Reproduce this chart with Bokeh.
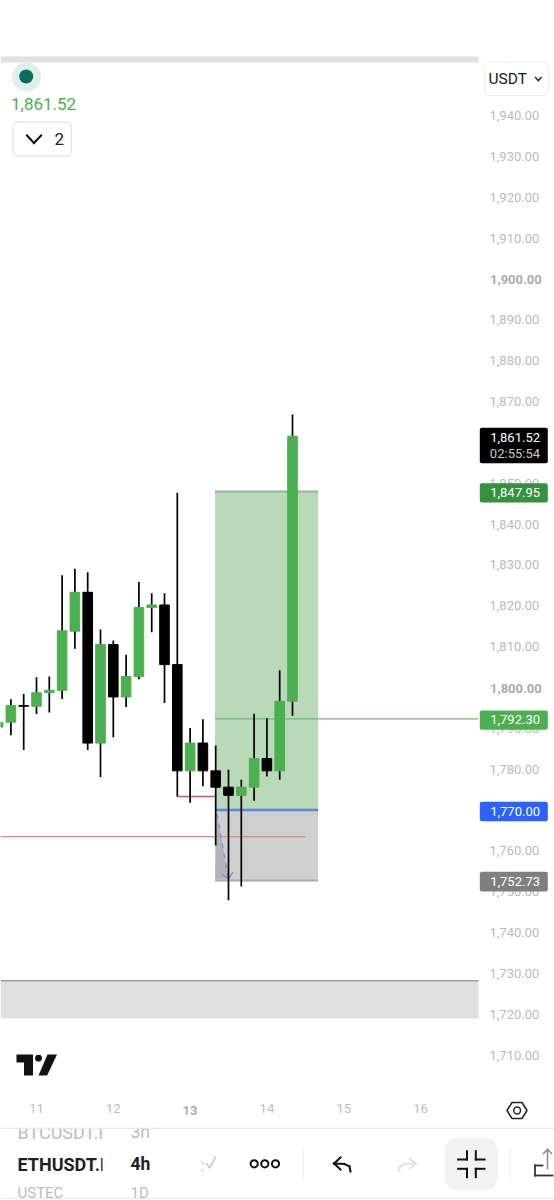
from bokeh.plotting import figure
from bokeh.embed import file_html
from bokeh.resources import INLINE
from bokeh.layouts import column
from bokeh.models import (LinearAxis, FixedTicker, Label, BoxAnnotation, PolyAnnotation, Range1d, ColumnDataSource)
import math

# ---- data ----
candle_index = list(range(-3, 21))
opens  = [1790.3,1791.5,1795.6,1795.4,1798.8,1799.3,1813.8,1823.3,1786.4,1810.5,1797.7,1802.7,1819.6,1820.2,1805.6,1779.6,1786.4,1779.6,1775.6,1773.6,1775.6,1782.6,1779.6,1796.65]
closes = [1791.5,1795.6,1795.4,1798.7,1799.3,1813.9,1823.3,1786.4,1810.5,1797.7,1802.7,1819.6,1820.2,1805.6,1779.6,1786.4,1779.6,1775.6,1773.6,1775.6,1782.6,1779.6,1796.65,1861.52]
highs  = [1791.8,1797.1,1798.4,1802.5,1802.7,1827.5,1829.05,1828.2,1814.2,1811.5,1808.0,1825.8,1823.1,1823.1,1847.7,1790.1,1792.2,1785.8,1779.85,1777.4,1793.6,1792.5,1804.2,1866.8]
lows   = [1789.8,1788.3,1784.7,1793.5,1793.9,1797.2,1809.5,1784.7,1778.05,1787.8,1795.2,1802.0,1813.5,1796.2,1773.3,1771.8,1775.8,1761.3,1747.9,1751.3,1772.3,1778.2,1777.4,1793.1]
price_ticks = list(range(1710, 1950, 10))
bold_prices = [1800, 1900]
day_ticks = [0, 6, 12, 18, 24, 30]
day_labels = ["11", "12", "13", "14", "15", "16"]
bold_day = "13"
target_price, entry_price, stop_price, last_price, position_line = 1847.95, 1770.00, 1752.73, 1861.52, 1792.30
position_left, position_right = 13.95, 22
red_level_a, red_level_b = 1763.5, 1773.3
arrow_from, arrow_to = (14.1, 1769.1), (15, 1753.2)

GREEN = "#4CAF50"
W, H = 554, 1200
fx0, fx1, fy0, fy1 = 0, 478, 0, 1098  # frame in page pixels

def pr(py):
    return 1800 - (py - 687) / 4.085
def kx(px):
    return (px - 36) / 12.8

p = figure(width=W, height=H, output_backend="svg", toolbar_location=None, tools="",
           x_range=Range1d(kx(fx0), kx(fx1)), y_range=Range1d(pr(fy1), pr(fy0)),
           min_border_left=0, min_border_top=0, min_border_right=W - fx1, min_border_bottom=H - fy1,
           x_axis_location=None, y_axis_location=None, outline_line_color=None, background_fill_color="white",
           frame_align=False)
p.xgrid.visible = False
p.ygrid.visible = False

xa = LinearAxis(ticker=FixedTicker(ticks=day_ticks),
                major_label_overrides={t: ("" if l == bold_day else l) for t, l in zip(day_ticks, day_labels)},
                major_tick_line_color=None, minor_tick_line_color=None, axis_line_color=None,
                major_tick_in=0, major_tick_out=0, minor_tick_in=0, minor_tick_out=0,
                major_label_text_font="Roboto", major_label_text_font_size="13px",
                major_label_text_color="#B9BBC0", major_label_standoff=5)
p.add_layout(xa, "below")
ya = LinearAxis(ticker=FixedTicker(ticks=price_ticks),
                major_label_overrides={t: ("" if t in bold_prices else f"{t:,.2f}") for t in price_ticks},
                major_tick_line_color=None, minor_tick_line_color=None, axis_line_color=None,
                major_tick_in=0, major_tick_out=0, minor_tick_in=0, minor_tick_out=0,
                major_label_text_font="Roboto", major_label_text_font_size="13px",
                major_label_text_color="#B9BBC0", major_label_standoff=11)
p.add_layout(ya, "right")

# ---- position tool ----
p.quad(left=[position_left], right=[position_right], bottom=[entry_price], top=[target_price],
       fill_color="#B9D9B9", line_color=None)
p.quad(left=[position_left], right=[position_right], bottom=[stop_price], top=[entry_price],
       fill_color="#CFCFCF", line_color=None)
p.patch([arrow_from[0], arrow_to[0], position_left], [arrow_from[1], arrow_to[1], arrow_to[1]],
        fill_color="#B3B3BA", line_color=None)
p.line([position_left, position_right], [target_price] * 2, line_color="#8DBB8D", line_width=2)
p.line([position_left, position_right], [stop_price] * 2, line_color="#ABABAB", line_width=2)
p.line([position_left, position_right], [entry_price] * 2, line_color="#5C86E0", line_width=2.5)
p.line([kx(fx0), position_right - 1], [red_level_a] * 2, line_color="#E9838B", line_width=1.3)
p.line([11, position_left], [red_level_b] * 2, line_color="#E0505F", line_width=1.5)
p.line([position_left, kx(fx1)], [position_line] * 2, line_color="#71B874", line_width=1.3)
p.line([arrow_from[0], arrow_to[0]], [arrow_from[1], arrow_to[1]], line_color="#6F8FDC", line_width=1.2, line_dash="5 5")
p.line([arrow_to[0] - 0.5, arrow_to[0], arrow_to[0] + 0.35], [arrow_to[1] + 1, arrow_to[1], arrow_to[1] + 1.6],
       line_color="#6F8FDC", line_width=1.2)

# ---- candles ----
colors = [GREEN if c >= o else "#000000" for o, c in zip(opens, closes)]
src = ColumnDataSource(dict(x=candle_index, o=opens, c=closes, h=highs, l=lows, col=colors))
p.segment("x", "h", "x", "l", source=src, line_color="#000000", line_width=1.7)
p.vbar(x="x", bottom="o", top="c", width=0.75, source=src, fill_color="col", line_color="col", line_width=1)

# ---- overlay figure for the app chrome, same size, transparent, in page pixels ----
q = figure(width=W, height=H, output_backend="svg", toolbar_location=None, tools="",
           x_range=Range1d(0, W), y_range=Range1d(H, 0), min_border=0,
           x_axis_location=None, y_axis_location=None, outline_line_color=None,
           background_fill_alpha=0, border_fill_alpha=0, margin=(-H, 0, 0, 0), frame_align=False)
q.xgrid.visible = False
q.ygrid.visible = False

def box(x0, y0, x1, y1, fill=None, line=None, lw=1, r=0):
    q.add_layout(BoxAnnotation(left=x0, right=x1, top=y0, bottom=y1,
                               left_units="canvas", right_units="canvas", top_units="canvas", bottom_units="canvas",
                               fill_color=fill, fill_alpha=1 if fill else 0,
                               line_color=line, line_alpha=1, line_width=lw, border_radius=int(math.ceil(r)), level="annotation", editable=False))

def txt(x, y, s, color="#B9BBC0", size=13, style="normal", align="left", baseline="middle"):
    q.add_layout(Label(x=x, y=y, x_units="canvas", y_units="canvas", text=s, text_color=color,
                       text_font="Roboto", text_font_size=f"{size}px", text_font_style=style,
                       text_align=align, text_baseline=baseline))

def poly(pts, fill=None, line=None, lw=1):
    q.add_layout(PolyAnnotation(xs=[a for a, _ in pts], ys=[b for _, b in pts],
                                xs_units="canvas", ys_units="canvas",
                                fill_color=fill, fill_alpha=1 if fill else 0, line_color=line, line_alpha=1, line_width=lw,
                                level="annotation"))

def stroke(pts, color="#111111", w=2):
    for (x1, y1), (x2, y2) in zip(pts, pts[1:]):
        d = math.hypot(x2 - x1, y2 - y1) or 1
        ex, ey = (x2 - x1) / d * w / 2, (y2 - y1) / d * w / 2
        nx, ny = -ey, ex
        poly([(x1 - ex + nx, y1 - ey + ny), (x2 + ex + nx, y2 + ey + ny),
              (x2 + ex - nx, y2 + ey - ny), (x1 - ex - nx, y1 - ey - ny)], fill=color)

# panes
box(fx0, 56, fx1, 62, fill="#E2E0E0")
box(fx0, 981, fx1, 1018, fill="#E0E0E0")
box(fx0, 979.5, fx1, 981, fill="#9A9A9A")

# bold axis labels
for t in bold_prices:
    txt(489.5, 687 + (1800 - t) * 4.085 + 0.5, f"{t:,.2f}", color="#A8ABB1", style="bold")
txt(189.5, 1110, bold_day, color="#A8ABB1", style="bold", align="center")

# price tags
box(479.3, 427.3, 547.3, 462.7, fill="#000000", r=2)
txt(539.5, 436.5, f"{last_price:,.2f}", color="#FFFFFF", align="right")
txt(539.5, 452.5, "02:55:54", color="#C8C8C8", align="right")
for y0, y1, col, val in [(482.7, 502, "#35913D", target_price), (710, 729.3, GREEN, position_line),
                         (801.3, 820.7, "#2962FF", entry_price), (871.3, 891, "#7F7F7F", stop_price)]:
    box(479.3, y0, 547.3, y1, fill=col, r=2)
    txt(539.5, (y0 + y1) / 2 - 0.5, f"{val:,.2f}", color="#FFFFFF", align="right")

# legend
box(11.5, 62, 40.5, 91, fill="#DDF0EC", r=14.5)
box(18.7, 69, 32.7, 83, fill="#0D6B5E", r=7)
txt(10.5, 103.5, "1,861.52", color="#4CAF50", size=17)
box(12.7, 121.7, 70.7, 155.7, fill="#FFFFFF", line="#E2E2E2", lw=1.2, r=4)
stroke([(26.5, 135), (33.5, 142.5), (40.6, 135)], color="#111111", w=2)
txt(54, 138.5, "2", color="#222222", size=17)
box(484, 61.7, 548, 95, fill="#FFFFFF", line="#EEEEEE", lw=1, r=5)
txt(488, 78, "USDT", color="#1A1A1A", size=15.5)
stroke([(535, 77), (537.8, 80), (540.6, 77)], color="#222222", w=1.4)

# logo
poly([(16, 1054), (32.5, 1054), (32.5, 1075), (23.5, 1075), (23.5, 1062), (16, 1062)], fill="#111111")
box(34.6, 1054.3, 41.4, 1061.1, fill="#111111", r=3.4)
poly([(47, 1054), (56.5, 1054), (46.6, 1075), (38, 1075)], fill="#111111")

# hex settings
poly([(506.5, 1110), (511.5, 1102), (521.5, 1102), (526.5, 1110), (521.5, 1118), (511.5, 1118)], line="#222222", lw=1.5)
box(513.2, 1106.6, 520, 1113.4, line="#222222", lw=1.5, r=3.4)

# bottom bar
txt(17, 1131.5, "BTCUSDT.P", color="#BDBDBD", size=18)
txt(130, 1131.5, "3h", color="#BDBDBD", size=17.5)
box(102, 1120, 128, 1145, fill="#FFFFFF")
box(fx0, 1118, 500, 1128, fill="#FFFFFF")
box(fx0, 1127.2, W, 1128.4, fill="#E8E8E8")
box(fx0, 1197.5, W, 1198.5, fill="#E8E8E8")
txt(17, 1163.5, "ETHUSDT.F", color="#1F1F1F", size=18, style="bold")
box(102, 1150, 128, 1176, fill="#FFFFFF")
txt(130, 1163.5, "4h", color="#1F1F1F", size=17.5, style="bold")
txt(17, 1192.5, "USTEC", color="#BDBDBD", size=15)
txt(130, 1192.5, "1D", color="#BDBDBD", size=15)

stroke([(206, 1163), (209, 1167), (215, 1157)], color="#C4C4C4", w=1.4)
stroke([(201, 1161), (203, 1164)], color="#DADADA", w=1.4)
stroke([(201, 1169), (203, 1171)], color="#DADADA", w=1.4)
for cx in (253.7, 264.3, 275):
    box(cx - 3.6, 1163.3 - 3.6, cx + 3.6, 1163.3 + 3.6, line="#111111", lw=2, r=3.6)
box(302.6, 1147, 303.6, 1178, fill="#EEEEEE")
box(508.8, 1147, 509.8, 1178, fill="#EEEEEE")
stroke([(340, 1157), (333.5, 1163), (340, 1169)], color="#111111", w=2)
stroke([(333.5, 1163), (344, 1163.5), (349, 1166), (350, 1171)], color="#111111", w=2)
stroke([(409, 1158), (415, 1163), (409, 1168)], color="#DEDEDE", w=1.8)
stroke([(415, 1163), (404, 1163.5), (399.5, 1166), (398.5, 1171)], color="#DEDEDE", w=1.8)
box(444, 1137, 497.5, 1190, fill="#F2F2F2", r=14)
stroke([(457.6, 1159), (466.5, 1159), (466.5, 1150.7)], color="#111111", w=2)
stroke([(475.3, 1150.7), (475.3, 1159), (484, 1159)], color="#111111", w=2)
stroke([(457.6, 1168.3), (466.5, 1168.3), (466.5, 1176.7)], color="#111111", w=2)
stroke([(484, 1168.3), (475.3, 1168.3), (475.3, 1176.7)], color="#111111", w=2)
stroke([(542, 1165), (534.5, 1165), (534.5, 1175), (552, 1175)], color="#333333", w=1.8)
stroke([(547, 1168), (547, 1149)], color="#888888", w=1.5)
stroke([(543, 1153), (547, 1149), (551, 1153)], color="#888888", w=1.5)

open("out.html", "w").write(file_html(column(p, q, spacing=0), INLINE))
